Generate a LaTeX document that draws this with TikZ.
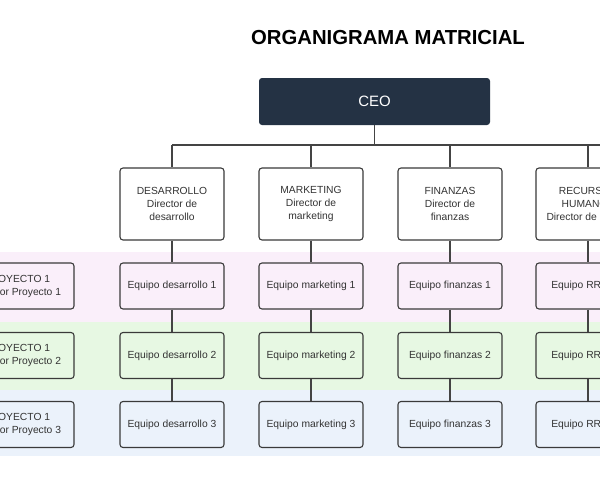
\documentclass[tikz,border=0pt]{standalone}
\usepackage{fontspec}
\setmainfont{Liberation Sans}
\begin{document}
\begin{tikzpicture}[x=1pt,y=-1pt,
  box/.style={draw=boxline,line width=1.1pt,rounded corners=3pt,minimum width=104pt,inner sep=0pt,font=\fontsize{10.3}{13}\selectfont,align=center,text=textgray},
  dirbox/.style={box,fill=white,minimum height=72pt},
  teambox/.style={box,minimum height=46pt},
  conn/.style={draw=linegray,line width=1.2pt}]
\definecolor{boxline}{HTML}{3A3A3A}
\definecolor{linegray}{HTML}{444444}
\definecolor{textgray}{HTML}{333333}
\definecolor{ceofill}{HTML}{243244}
\definecolor{pinkband}{HTML}{FAEFFA}
\definecolor{greenband}{HTML}{E7F8E3}
\definecolor{blueband}{HTML}{EBF2FB}
\useasboundingbox (0,0) rectangle (600,480);
\clip (0,0) rectangle (600,480);
\fill[white] (0,0) rectangle (600,480);
% bands
\fill[pinkband] (0,252) rectangle (600,322);
\fill[greenband] (0,322) rectangle (600,390);
\fill[blueband] (0,390) rectangle (600,456);
% title
\node (title) at (388,38) {\fontsize{20.3}{24}\selectfont\bfseries ORGANIGRAMA MATRICIAL};
% CEO
\node[fill=ceofill,rounded corners=3pt,minimum width=231pt,minimum height=47pt,inner sep=0pt,text=white,font=\fontsize{15}{18}\selectfont] (ceo) at (374.5,101.5) {CEO};
% bus
\coordinate (bus) at (374.5,145);
\coordinate (busL) at (172,145);
\coordinate (busR) at (620,145);
% directors
\node[dirbox] (d1) at (172,204) {DESARROLLO\\Director de\\desarrollo};
\node[dirbox] (d2) at (311,204) {MARKETING\\Director de\\marketing};
\node[dirbox] (d3) at (450,204) {FINANZAS\\Director de\\finanzas};
\node[dirbox] (d4) at (588,204) {RECURSOS\\HUMANOS\\Director de RRHH};
% left project boxes
\node[teambox,fill=pinkband,minimum width=114pt] (p1) at (17,286) {PROYECTO 1\\Director Proyecto 1};
\node[teambox,fill=greenband,minimum width=114pt] (p2) at (17,355.5) {PROYECTO 1\\Director Proyecto 2};
\node[teambox,fill=blueband,minimum width=114pt] (p3) at (17,424.5) {PROYECTO 1\\Director Proyecto 3};
% teams
\node[teambox,fill=pinkband] (a1) at (172,286) {Equipo desarrollo 1};
\node[teambox,fill=greenband] (a2) at (172,355.5) {Equipo desarrollo 2};
\node[teambox,fill=blueband] (a3) at (172,424.5) {Equipo desarrollo 3};
\node[teambox,fill=pinkband] (b1) at (311,286) {Equipo marketing 1};
\node[teambox,fill=greenband] (b2) at (311,355.5) {Equipo marketing 2};
\node[teambox,fill=blueband] (b3) at (311,424.5) {Equipo marketing 3};
\node[teambox,fill=pinkband] (c1) at (450,286) {Equipo finanzas 1};
\node[teambox,fill=greenband] (c2) at (450,355.5) {Equipo finanzas 2};
\node[teambox,fill=blueband] (c3) at (450,424.5) {Equipo finanzas 3};
\node[teambox,fill=pinkband] (e1) at (588,286) {Equipo RRHH 1};
\node[teambox,fill=greenband] (e2) at (588,355.5) {Equipo RRHH 2};
\node[teambox,fill=blueband] (e3) at (588,424.5) {Equipo RRHH 3};
% connectors
\draw[conn] (ceo.south) -- (bus);
\draw[conn] (busL) -- (busR);
\draw[conn] (busL) -- (d1.north);
\draw[conn] (d2.north |- bus) -- (d2.north);
\draw[conn] (d3.north |- bus) -- (d3.north);
\draw[conn] (d4.north |- bus) -- (d4.north);
\draw[conn] (d1.south) -- (a1.north);
\draw[conn] (d2.south) -- (b1.north);
\draw[conn] (d3.south) -- (c1.north);
\draw[conn] (d4.south) -- (e1.north);
\foreach \c in {a,b,c,e}{
  \draw[conn] (\c1.south) -- (\c2.north);
  \draw[conn] (\c2.south) -- (\c3.north);
}
\end{tikzpicture}
\end{document}
